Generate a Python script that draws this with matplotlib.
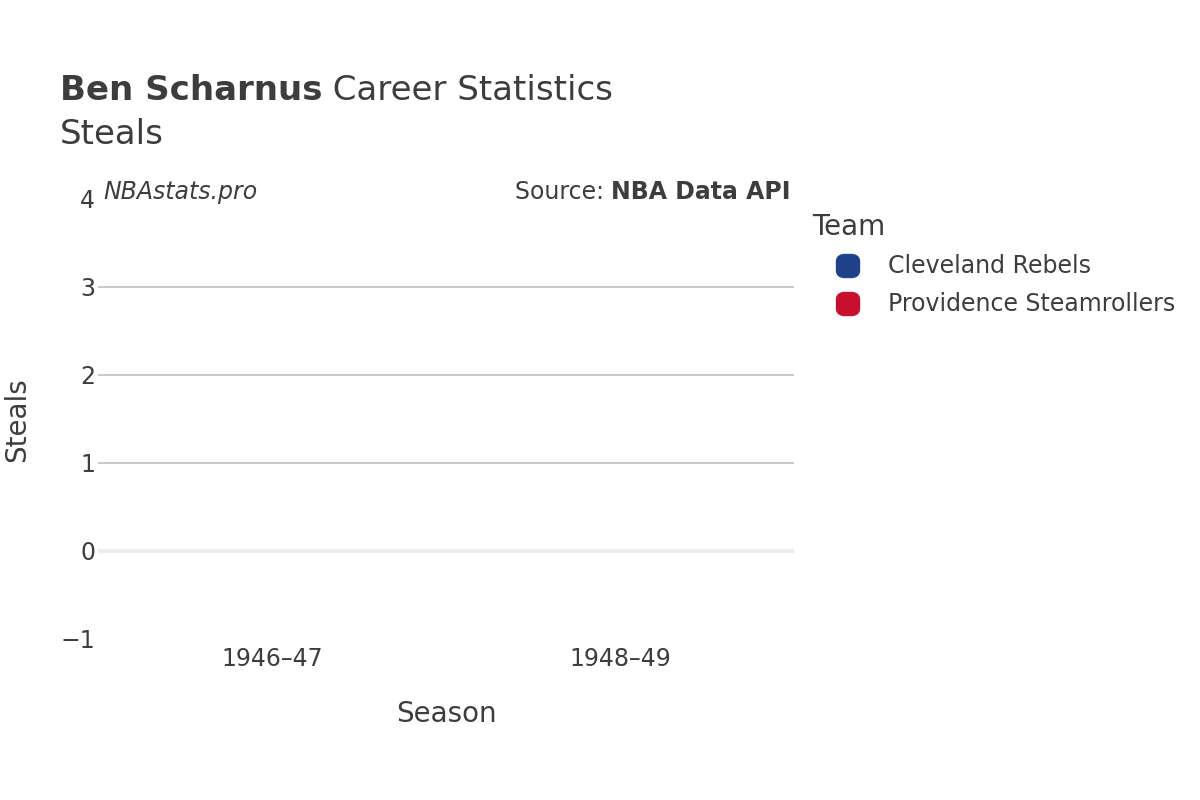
import matplotlib.pyplot as plt
from matplotlib.patches import FancyBboxPatch
import numpy as np

# data
seasons = ["1946–47", "1948–49"]
teams = ["Cleveland Rebels", "Providence Steamrollers"]
team_colors = ["#1d428a", "#c8102e"]
steals = [0, 0]

txt = "#3d3d3d"
plt.rcParams['font.family'] = ['DejaVu Sans']

W, H = 1200, 800
fig = plt.figure(figsize=(12, 8), dpi=100)
ax = fig.add_axes([0.0817, 0.20125, 0.58, 0.55])

x = np.arange(len(seasons))
ax.bar(x, steals, width=0.6, color=team_colors)

ax.set_xlim(-0.5, 1.5)
ax.set_ylim(-1, 4)
ax.set_yticks([-1, 0, 1, 2, 3, 4])
ax.set_yticklabels(["−1", "0", "1", "2", "3", "4"])
ax.set_xticks(x)
ax.set_xticklabels(seasons)
for yv in [1, 2, 3]:
    ax.axhline(yv, color="#c4c4c4", lw=1.3, zorder=0)
ax.axhline(0, color="#ececec", lw=3, zorder=0)

for s in ax.spines.values():
    s.set_visible(False)
ax.tick_params(length=0, labelsize=17, colors=txt)
ax.tick_params(axis='x', pad=6)
ax.tick_params(axis='y', pad=2)

ax.set_xlabel("Season", fontsize=20, color=txt, labelpad=21)
fig.text(17 / W, 1 - 420 / H, "Steals", fontsize=20, color=txt,
         rotation=90, ha='center', va='center')

renderer = fig.canvas.get_renderer()
t1 = fig.text(0.05, 1 - 90 / H, "Ben Scharnus", fontsize=24.5,
              fontweight='bold', color=txt, va='center')
bb = t1.get_window_extent(renderer)
fig.text(bb.x1 / W, 1 - 90 / H, " Career Statistics", fontsize=24.5,
         color=txt, va='center')
fig.text(0.05, 1 - 134 / H, "Steals", fontsize=24.5, color=txt, va='center')

ax.text(0.008, 1.016, "NBAstats.pro", transform=ax.transAxes, fontsize=17,
        style='italic', color=txt, va='center')
t2 = ax.text(0.995, 1.016, "NBA Data API", transform=ax.transAxes, fontsize=17,
             fontweight='bold', color=txt, va='center', ha='right')
bb2 = t2.get_window_extent(renderer)
fig.text(bb2.x0 / W, 1 - 192 / H, "Source: ", fontsize=17, color=txt,
         va='center', ha='right')

# legend
fig.text(812 / W, 1 - 227 / H, "Team", fontsize=20, color=txt, va='center')
for i, (team, c) in enumerate(zip(teams, team_colors)):
    yc = 266 + 38 * i
    box = FancyBboxPatch(((837 + 3) / W, 1 - (yc + 8) / H), 16 / W, 16 / H,
                         boxstyle="round,pad=0,rounding_size=0.004",
                         transform=fig.transFigure, facecolor=c, edgecolor=c,
                         linewidth=6, joinstyle='round')
    fig.add_artist(box)
    fig.text(888 / W, 1 - yc / H, team, fontsize=17, color=txt, va='center')

fig.savefig("out.png", dpi=100)
